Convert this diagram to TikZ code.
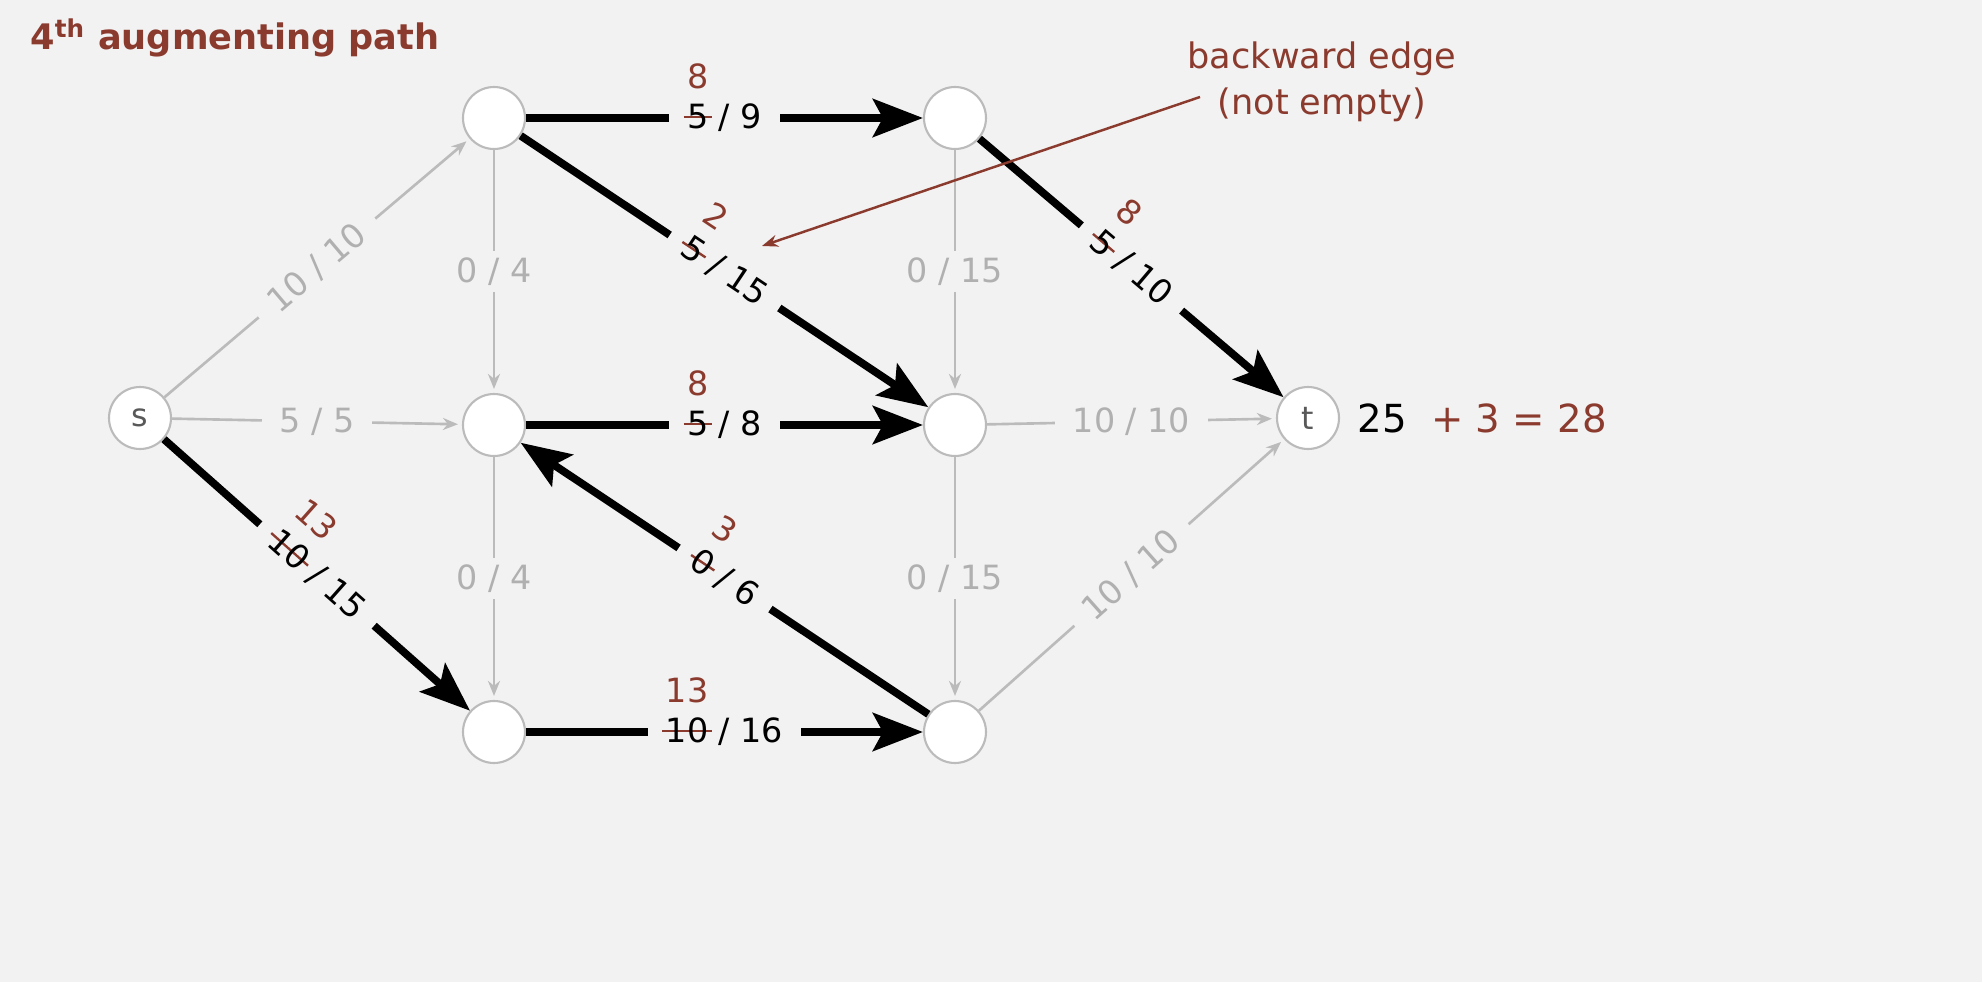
\documentclass[tikz,border=0pt]{standalone}
\usepackage{fontspec}
\setmainfont{DejaVu Sans}
\usetikzlibrary{arrows.meta}
\definecolor{bg}{HTML}{F2F2F2}
\definecolor{myred}{HTML}{8B3A2E}
\definecolor{eg}{HTML}{BBBBBB}
\definecolor{lg}{HTML}{B0B0B0}
\newsavebox\chgbox
\newcommand\chg[2]{\sbox\chgbox{#1}\makebox[0pt][l]{\makebox[\wd\chgbox][c]{\raisebox{1.2em}[0pt][0pt]{\color{myred}#2}}}\makebox[0pt][l]{\color{myred}\kern-0.1em\rule[0.32em]{\dimexpr\wd\chgbox+0.2em}{0.07em}}\usebox\chgbox}
\tikzset{
 vert/.style={circle,draw=eg,fill=white,line width=0.6pt,minimum size=0.62cm,inner sep=0pt,font=\fontsize{9}{10}\selectfont,text=black!65},
 gedge/.style={draw=eg,line width=0.75pt,-{Stealth[length=0.15cm,width=0.12cm]},shorten >=0.04cm},
 bedge/.style={draw=black,line width=2.2pt,-{Stealth[length=0.5cm,width=0.38cm,inset=0.1cm]}},
 glab/.style={fill=bg,inner xsep=5pt,inner ysep=2pt,text=lg,font=\fontsize{9.5}{10}\selectfont},
 blab/.style={fill=bg,inner xsep=5pt,inner ysep=2pt,text=black,font=\fontsize{9.5}{10}\selectfont},
}
\begin{document}
\begin{tikzpicture}
\fill[bg] (0,0) rectangle (19.82,-9.82);
\useasboundingbox (0,0) rectangle (19.82,-9.82);
\node[anchor=west,text=myred,font=\bfseries\fontsize{10}{12}\selectfont] (title) at (0.18,-0.38) {4\textsuperscript{th} augmenting path};
\node[vert] (s) at (1.40,-4.18) {s};
\node[vert] (A) at (4.94,-1.18) {};
\node[vert] (B) at (9.55,-1.18) {};
\node[vert] (C) at (4.94,-4.25) {};
\node[vert] (D) at (9.55,-4.25) {};
\node[vert] (t) at (13.08,-4.18) {t};
\node[vert] (E) at (4.94,-7.32) {};
\node[vert] (F) at (9.55,-7.32) {};
% gray edges
\draw[gedge] (s) -- node[glab,sloped]{10 / 10} (A);
\draw[gedge] (s) -- node[glab]{5 / 5} (C);
\draw[gedge] (A) -- node[glab]{0 / 4} (C);
\draw[gedge] (C) -- node[glab]{0 / 4} (E);
\draw[gedge] (B) -- node[glab]{0 / 15} (D);
\draw[gedge] (D) -- node[glab]{0 / 15} (F);
\draw[gedge] (D) -- node[glab]{10 / 10} (t);
\draw[gedge] (F) -- node[glab,sloped]{10 / 10} (t);
% black edges
\draw[bedge] (s) -- node[blab,sloped]{\chg{10}{13} / 15} (E);
\draw[bedge] (A) -- node[blab]{\chg{5}{8} / 9} (B);
\draw[bedge] (A) -- node[blab,sloped]{\chg{5}{2} / 15} (D);
\draw[bedge] (B) -- node[blab,sloped]{\chg{5}{8} / 10} (t);
\draw[bedge] (C) -- node[blab]{\chg{5}{8} / 8} (D);
\draw[bedge] (F) -- node[blab,sloped]{\chg{0}{3} / 6} (C);
\draw[bedge] (E) -- node[blab]{\chg{10}{13} / 16} (F);
% annotation
\node[text=myred,align=center,font=\fontsize{10}{13}\selectfont] (note) at (13.22,-0.82) {backward edge\\(not empty)};
\coordinate (nstart) at (12.00,-0.97);
\coordinate (nend) at (7.62,-2.46);
\draw[myred,line width=0.7pt,-{Stealth[length=0.16cm,width=0.12cm]}] (nstart) -- (nend);
\node[anchor=west,font=\fontsize{11}{12}\selectfont] (val) at (13.45,-4.18) {25 \ \textcolor{myred}{+ 3 = 28}};
\end{tikzpicture}
\end{document}
